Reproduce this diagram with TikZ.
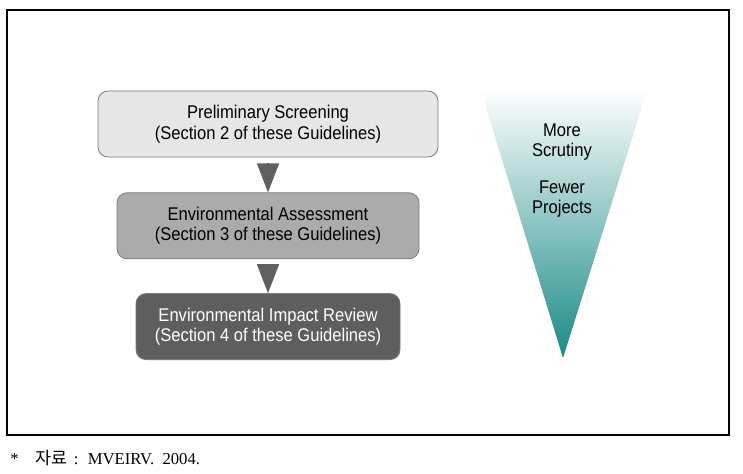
\documentclass[tikz,border=0pt]{standalone}
\usepackage{fontspec}
\setmainfont{Liberation Serif}
\newfontfamily\boxfont[FakeStretch=0.9]{Liberation Sans}
\newfontfamily\korfont{Noto Sans CJK KR}
\usepackage{xcolor}
\definecolor{frameDark}{HTML}{000000}
\definecolor{lightStage}{HTML}{E6E6E6}
\definecolor{midStage}{HTML}{ABABAB}
\definecolor{darkStage}{HTML}{5E5E5E}
\definecolor{stageEdge}{HTML}{7A7A7A}
\definecolor{arrowGray}{HTML}{606060}
\definecolor{funnelTeal}{HTML}{1A8A85}
\usetikzlibrary{positioning,arrows.meta}
\tikzset{%
  stageBox/.style={%
    rectangle,
    rounded corners=7.5pt,
    draw=stageEdge,
    line width=0.6pt,
    minimum height=49.5pt,
    align=center,
    inner sep=0pt,
    font=\boxfont\fontsize{13.8}{15.5}\selectfont
  },
  flowArrow/.style={%
    -{Triangle[length=21.75pt,width=16.5pt]},
    line width=1pt,
    color=arrowGray,
    shorten <=4.5pt
  },
  funnelText/.style={%
    align=center,
    inner sep=0pt,
    font=\boxfont\fontsize{13.8}{15}\selectfont
  }
}

\begin{document}
\begin{tikzpicture}[x=0.75pt,y=-0.75pt]
  \useasboundingbox (0,0) rectangle (743,474);
  \draw[frameDark, line width=1.1pt] (7,10) rectangle (729,435);

  % stages
  \node[stageBox, fill=lightStage, minimum width=255pt] (prelimBox) at (268,124)
    {Preliminary Screening\\(Section 2 of these Guidelines)};
  \node[stageBox, fill=midStage, minimum width=226.5pt, below=26.25pt of prelimBox] (assessBox)
    {Environmental Assessment\\(Section 3 of these Guidelines)};
  \node[stageBox, fill=darkStage, text=white, minimum width=198pt, below=25.5pt of assessBox] (reviewBox)
    {Environmental Impact Review\\(Section 4 of these Guidelines)};

  \draw[flowArrow] (prelimBox) -- (assessBox);
  \draw[flowArrow] (assessBox) -- (reviewBox);

  % funnel
  \shade[top color=white, bottom color=funnelTeal] (480,88) -- (648,88) -- (563,358) -- cycle;
  \node[funnelText] (scrutiny) at (562,142) {More\\Scrutiny};
  \node[funnelText] (fewer) at (562,199) {Fewer\\Projects};

  \node[anchor=west, inner sep=0pt, font=\fontsize{12.5}{15}\selectfont] (source) at (10,458)
    {*\hspace{12.5pt}{\korfont\fontsize{13}{15}\selectfont 자료}\hspace{5pt}:\hspace{7pt}MVEIRV.\ \ 2004.};
\end{tikzpicture}
\end{document}
